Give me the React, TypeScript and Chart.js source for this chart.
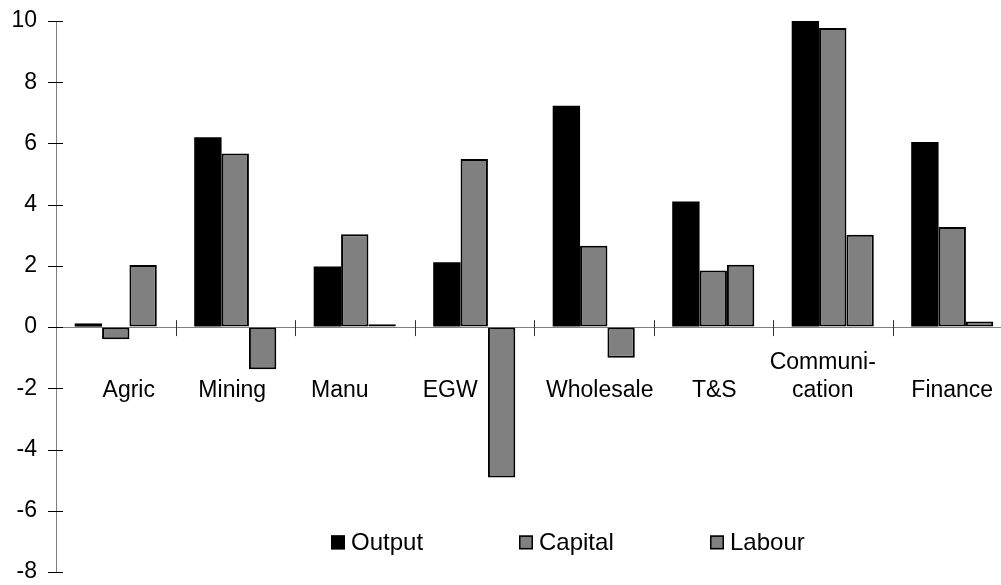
import { useEffect, useRef } from "react";
import { Chart, registerables } from "chart.js";

Chart.register(...registerables);

const categories: (string | string[])[] = [
  "Agric",
  "Mining",
  "Manu",
  "EGW",
  "Wholesale",
  "T&S",
  ["Communi-", "cation"],
  "Finance",
];
const outputValues = [0.12, 6.2, 1.98, 2.12, 7.23, 4.1, 10.0, 6.05];
const capitalValues = [-0.4, 5.67, 3.03, 5.49, 2.66, 1.85, 9.77, 3.27];
const labourValues = [2.03, -1.38, 0.09, -4.91, -1.0, 2.04, 3.02, 0.18];
const seriesNames = ["Output", "Capital", "Labour"];
const yMin = -8;
const yMax = 10;
const yStep = 2;
const legendValue = -7;

// horizontal nudges (px) of the category labels, as placed in the original
const labelShift = [13, -3, -15, -24, 6, 1, -10, 0];

const FONT = "'Liberation Sans', Arial, sans-serif";
const GRAY = "#808080";

const crossTicks = {
  id: "crossTicks",
  beforeDatasetsDraw(chart: any) {
    const { ctx, scales } = chart;
    const x = scales.x;
    const y = scales.y;
    const zero = y.getPixelForValue(0);
    ctx.save();
    ctx.strokeStyle = "#000";
    ctx.lineWidth = 1;
    y.ticks.forEach((t: any) => {
      const py = Math.round(y.getPixelForValue(t.value)) + 0.5;
      ctx.beginPath();
      ctx.moveTo(chart.chartArea.left - 8, py);
      ctx.lineTo(chart.chartArea.left + 7, py);
      ctx.stroke();
    });
    ctx.strokeStyle = "#333";
    for (let i = 1; i < categories.length + 1; i++) {
      const px = Math.round(x.getPixelForValue(i - 0.5)) + 0.5;
      ctx.beginPath();
      ctx.moveTo(px, zero - 7);
      ctx.lineTo(px, zero + 9);
      ctx.stroke();
    }
    ctx.restore();
  },
};

const categoryLabels = {
  id: "categoryLabels",
  afterDatasetsDraw(chart: any) {
    const { ctx, scales } = chart;
    const x = scales.x;
    const zero = scales.y.getPixelForValue(0);
    ctx.save();
    ctx.font = `23px ${FONT}`;
    ctx.fillStyle = "#000";
    ctx.textAlign = "center";
    ctx.textBaseline = "alphabetic";
    categories.forEach((c, i) => {
      const lines = Array.isArray(c) ? c : [c];
      const px = x.getPixelForValue(i) + labelShift[i];
      const lastBase = zero + 69.5;
      lines.forEach((ln, j) => {
        ctx.fillText(ln, px, lastBase - (lines.length - 1 - j) * 28);
      });
    });
    ctx.restore();
  },
};

const legendXs = [331, 519, 710];

const innerLegend = {
  id: "innerLegend",
  afterDraw(chart: any) {
    const { ctx, scales } = chart;
    const py = scales.y.getPixelForValue(legendValue);
    ctx.save();
    ctx.font = `24px ${FONT}`;
    ctx.textBaseline = "middle";
    ctx.textAlign = "left";
    chart.data.datasets.forEach((ds: any, i: number) => {
      const bx = legendXs[i];
      const size = 14;
      const top = py - 6;
      ctx.fillStyle = ds.backgroundColor;
      ctx.fillRect(bx, top, size, size);
      ctx.strokeStyle = "#000";
      ctx.lineWidth = 1.5;
      ctx.strokeRect(bx + 0.75, top + 0.75, size - 1.5, size - 1.5);
      ctx.fillStyle = "#000";
      ctx.fillText(ds.label, bx + size + 6, py + 2);
    });
    ctx.restore();
  },
};

export default function App() {
  const ref = useRef<HTMLCanvasElement>(null);

  useEffect(() => {
    if (!ref.current) return;
    const chart = new Chart(ref.current, {
      type: "bar",
      data: {
        labels: categories,
        datasets: [
          {
            label: seriesNames[0],
            data: outputValues,
            backgroundColor: "#000000",
            borderColor: "#000000",
            borderWidth: 0,
          },
          {
            label: seriesNames[1],
            data: capitalValues,
            backgroundColor: GRAY,
            borderColor: "#000000",
            borderWidth: 2,
            borderSkipped: false,
          },
          {
            label: seriesNames[2],
            data: labourValues,
            backgroundColor: GRAY,
            borderColor: "#000000",
            borderWidth: 2,
            borderSkipped: false,
          },
        ],
      },
      options: {
        animation: false,
        responsive: false,
        devicePixelRatio: 1,
        layout: { padding: { left: 0, top: 21, bottom: 13, right: 14 } },
        plugins: {
          legend: { display: false },
          tooltip: { enabled: false },
        },
        datasets: {
          bar: { categoryPercentage: 0.687, barPercentage: 1 },
        },
        scales: {
          x: {
            type: "category",
            position: { y: 0 } as any,
            offset: true,
            grid: { display: true, drawOnChartArea: false, drawTicks: false, offset: true },
            border: { display: true, color: GRAY, width: 1 },
            ticks: { display: false },
            afterFit: (s: any) => {
              s.paddingLeft = 0;
              s.paddingRight = 0;
              s.paddingTop = 0;
              s.paddingBottom = 0;
            },
          },
          y: {
            min: yMin,
            max: yMax,
            grid: { display: true, drawOnChartArea: false, drawTicks: false },
            border: { display: true, color: GRAY, width: 1 },
            ticks: {
              stepSize: yStep,
              color: "#000",
              font: { family: FONT, size: 23 },
              padding: 19,
            },
            afterFit: (s: any) => {
              s.width = 56;
              s.paddingTop = 0;
              s.paddingBottom = 0;
            },
          },
        },
      },
      plugins: [crossTicks, categoryLabels, innerLegend],
    });
    return () => chart.destroy();
  }, []);

  return (
    <div
      style={{
        position: "fixed",
        left: 0,
        top: 0,
        width: 1001,
        height: 585,
        overflow: "hidden",
        background: "#fff",
      }}
    >
      <canvas ref={ref} width={1026} height={585} style={{ display: "block" }} />
    </div>
  );
}
